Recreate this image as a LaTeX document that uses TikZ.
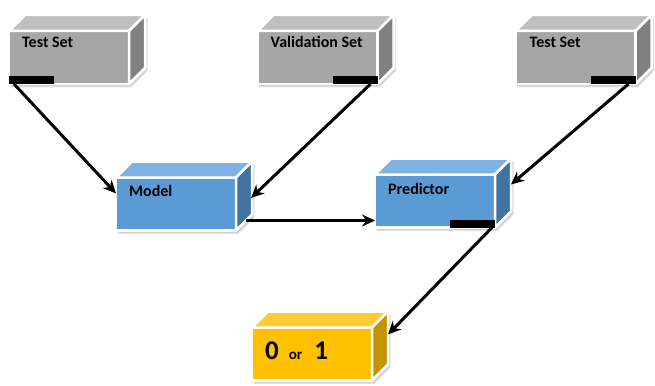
\documentclass[tikz,border=0pt]{standalone}
\usepackage{fontspec}
\setmainfont{Carlito}
\usetikzlibrary{arrows.meta,backgrounds}

\definecolor{grayfront}{RGB}{166,166,166}
\definecolor{graytop}{RGB}{191,191,191}
\definecolor{grayside}{RGB}{128,128,128}
\definecolor{bluefront}{RGB}{91,155,213}
\definecolor{bluetop}{RGB}{125,178,226}
\definecolor{blueside}{RGB}{66,115,160}
\definecolor{goldfront}{RGB}{255,192,0}
\definecolor{goldtop}{RGB}{255,204,51}
\definecolor{goldside}{RGB}{196,148,0}

\tikzset{
  face/.style={draw=white, line width=2.5pt, minimum width=120pt, minimum height=53pt,
    inner sep=0pt, outer sep=0pt},
  facedge/.style={draw=white, line width=2.5pt, line join=round},
  bar/.style={fill=black, minimum width=45pt, minimum height=8pt, inner sep=0pt, outer sep=0pt},
  lbl/.style={font=\fontsize{16}{18}\selectfont\bfseries, inner sep=0pt, anchor=base west},
  arr/.style={-{Stealth[length=13pt,width=12pt]}, line width=3pt}
}

% front face as a node, top and side faces drawn from its corners
\newcommand{\slab}[5]{%
  \node[face, fill=#3] (#1) at #2 {};
  \begin{pgfonlayer}{background}
    \filldraw[black!18, draw=black!12, line width=1pt]
      ([shift={(2,3)}]#1.south west) -- ([shift={(2,3)}]#1.south east)
      -- ([shift={(18,-13)}]#1.south east) -- ([shift={(18,-13)}]#1.north east)
      -- ([shift={(18,-13)}]#1.north west) -- ([shift={(2,3)}]#1.north west) -- cycle;
  \end{pgfonlayer}
  \filldraw[facedge, fill=#4] (#1.north west) -- ++(16,-16)
    -- ([shift={(16,-16)}]#1.north east) -- (#1.north east) -- cycle;
  \filldraw[facedge, fill=#5] (#1.north east) -- ++(16,-16)
    -- ([shift={(16,-16)}]#1.south east) -- (#1.south east) -- cycle;
}

\begin{document}
\begin{tikzpicture}[x=1pt, y=-1pt]
  \useasboundingbox (0,0) rectangle (655,385);

  % data sets
  \slab{test1}{(69,57.5)}{grayfront}{graytop}{grayside}
  \slab{valid}{(317.5,57.5)}{grayfront}{graytop}{grayside}
  \slab{test2}{(575.5,57.5)}{grayfront}{graytop}{grayside}
  \node[lbl] at ([shift={(13,17)}]test1.north west) {Test Set};
  \node[lbl] at ([shift={(13,17)}]valid.north west) {Validation Set};
  \node[lbl] at ([shift={(14,17)}]test2.north west) {Test Set};
  \node[bar, anchor=south west] (bar1) at (test1.south west) {};
  \node[bar, anchor=south east] (bar2) at (valid.south east) {};
  \node[bar, anchor=south east] (bar3) at (test2.south east) {};

  % model and predictor
  \slab{model}{(176,204)}{bluefront}{bluetop}{blueside}
  \slab{pred}{(435,201)}{bluefront}{bluetop}{blueside}
  \node[lbl] at ([shift={(13,19)}]model.north west) {Model};
  \node[lbl] at ([shift={(13,20)}]pred.north west) {Predictor};
  \node[bar, anchor=south east] (bar4) at (pred.south east) {};

  % result
  \slab{out}{(312,354)}{goldfront}{goldtop}{goldside}
  \node[font=\bfseries, inner sep=0pt, anchor=base west] (res) at ([shift={(13,32)}]out.north west)
    {\fontsize{27}{29}\selectfont 0\hspace{10pt}\fontsize{15}{16}\selectfont or\hspace{12pt}\fontsize{27}{29}\selectfont 1};

  \coordinate (mout) at ([shift={(10,-10)}]model.south east);
  \draw[arr] ([xshift=5pt]bar1.south west) -- (model.170);
  \draw[arr] ([xshift=-7pt]bar2.south east) -- ([shift={(15,-6)}]model.east);
  \draw[arr] (mout) -- (mout -| pred.west);
  \draw[arr] ([xshift=-7pt]bar3.south east) -- ([shift={(16,10)}]pred.north east);
  \draw[arr] ([xshift=-3pt]bar4.south east) -- ([shift={(16,7)}]out.north east);
\end{tikzpicture}
\end{document}
